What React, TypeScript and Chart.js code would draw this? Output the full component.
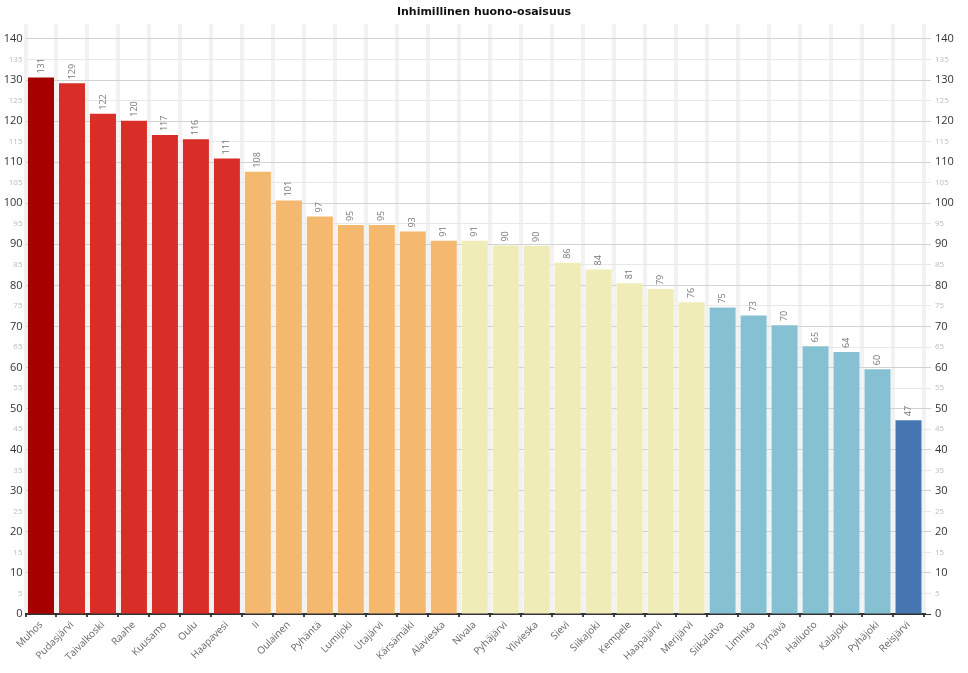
import React, { useEffect, useRef } from "react";
import { Chart, registerables } from "chart.js";

Chart.register(...registerables);

const categories = [
  "Muhos", "Pudasjärvi", "Taivalkoski", "Raahe", "Kuusamo", "Oulu", "Haapavesi",
  "Ii", "Oulainen", "Pyhäntä", "Lumijoki", "Utajärvi", "Kärsämäki", "Alavieska",
  "Nivala", "Pyhäjärvi", "Ylivieska", "Sievi", "Siikajoki", "Kempele", "Haapajärvi", "Merijärvi",
  "Siikalatva", "Liminka", "Tyrnävä", "Hailuoto", "Kalajoki", "Pyhäjoki",
  "Reisjärvi",
];

const values = [
  130.6, 129.2, 121.8, 120.1, 116.6, 115.6, 110.9,
  107.7, 100.7, 96.8, 94.7, 94.7, 93.1, 90.9,
  90.9, 89.7, 89.6, 85.5, 83.9, 80.5, 79.1, 75.9,
  74.6, 72.7, 70.3, 65.2, 63.8, 59.6,
  47.2,
];

// class of each municipality (0..5)
const groups = [
  0, 1, 1, 1, 1, 1, 1,
  2, 2, 2, 2, 2, 2, 2,
  3, 3, 3, 3, 3, 3, 3, 3,
  4, 4, 4, 4, 4, 4,
  5,
];

const groupColors = ["#a50000", "#d92d27", "#f4b96f", "#efecb7", "#86c1d3", "#4576b1"];

const yTicks = [0, 5, 10, 15, 20, 25, 30, 35, 40, 45, 50, 55, 60, 65, 70, 75, 80, 85, 90, 95, 100, 105, 110, 115, 120, 125, 130, 135, 140];

const titleText = "Inhimillinen huono-osaisuus";

const FONT = "'Open Sans', 'DejaVu Sans', sans-serif";

const valueLabels = {
  id: "valueLabels",
  afterDatasetsDraw(chart: any) {
    const ctx = chart.ctx;
    const meta = chart.getDatasetMeta(0);
    ctx.save();
    ctx.font = `9px ${FONT}`;
    ctx.fillStyle = "#777";
    ctx.textAlign = "left";
    ctx.textBaseline = "middle";
    meta.data.forEach((bar: any, i: number) => {
      ctx.save();
      ctx.translate(bar.x, bar.y - 4);
      ctx.rotate(-Math.PI / 2);
      ctx.fillText(String(Math.round(values[i])), 0, 0);
      ctx.restore();
    });
    ctx.restore();
  },
};

const tickFont = (ctx: any) => {
  const v = ctx.tick ? ctx.tick.value : 0;
  return v % 10 === 0 ? { size: 11, family: FONT } : { size: 8, family: FONT };
};
const tickColor = (ctx: any) => {
  const v = ctx.tick ? ctx.tick.value : 0;
  return v % 10 === 0 ? "#333" : "#bbb";
};
const gridColor = (ctx: any) => {
  const v = ctx.tick ? ctx.tick.value : 0;
  if (v === 0) return "#333";
  return v % 10 === 0 ? "#d2d2d2" : "#e8e8e8";
};

const setTicks = (scale: any) => {
  scale.ticks = yTicks.map((v) => ({ value: v }));
};

export default function App() {
  const ref = useRef<HTMLCanvasElement | null>(null);
  useEffect(() => {
    document.body.style.margin = "0";
    const chart = new Chart(ref.current as HTMLCanvasElement, {
      type: "bar",
      data: {
        labels: categories,
        datasets: [
          {
            data: values,
            backgroundColor: groups.map((g) => groupColors[g]),
            categoryPercentage: 1,
            barPercentage: 0.84,
            yAxisID: "y",
          },
        ],
      },
      options: {
        animation: false,
        responsive: false,
        maintainAspectRatio: false,
        layout: { padding: 0 },
        plugins: {
          legend: { display: false },
          tooltip: { enabled: false },
          title: {
            display: true,
            text: titleText,
            color: "#111",
            font: { size: 11, weight: "bold", family: "'DejaVu Sans', Verdana, sans-serif" },
            padding: { top: 6, bottom: 5 },
          },
        },
        scales: {
          x: {
            grid: {
              offset: true,
              color: "#f2f2f2",
              lineWidth: 4,
              drawTicks: true,
              tickLength: 3,
              tickColor: "#444",
              tickWidth: 2,
            },
            border: { display: true, color: "#333", width: 2 },
            ticks: {
              autoSkip: false,
              minRotation: 45,
              maxRotation: 45,
              color: "#666",
              padding: 2,
              font: { size: 10, family: FONT },
            },
            afterFit: (s: any) => {
              s.height = 59;
            },
          },
          y: {
            position: "left",
            min: 0,
            max: 143.6,
            afterBuildTicks: setTicks,
            grid: {
              color: gridColor,
              lineWidth: 1,
              drawTicks: false,
            },
            border: { display: false },
            ticks: {
              padding: 3,
              color: tickColor,
              font: tickFont,
            },
            afterFit: (s: any) => {
              s.width = 25.5;
            },
          },
          y2: {
            position: "right",
            min: 0,
            max: 143.6,
            afterBuildTicks: setTicks,
            grid: {
              drawOnChartArea: false,
              drawTicks: true,
              tickLength: 7,
              tickColor: gridColor,
            },
            border: { display: false },
            ticks: {
              padding: 4,
              color: tickColor,
              font: tickFont,
            },
            afterFit: (s: any) => {
              s.width = 44;
            },
          },
        },
      },
      plugins: [valueLabels],
    } as any);
    return () => chart.destroy();
  }, []);
  return (
    <div style={{ position: "absolute", left: 0, top: 0, width: 968, height: 673 }}>
      <canvas ref={ref} width={968} height={673} style={{ width: 968, height: 673 }} />
    </div>
  );
}
